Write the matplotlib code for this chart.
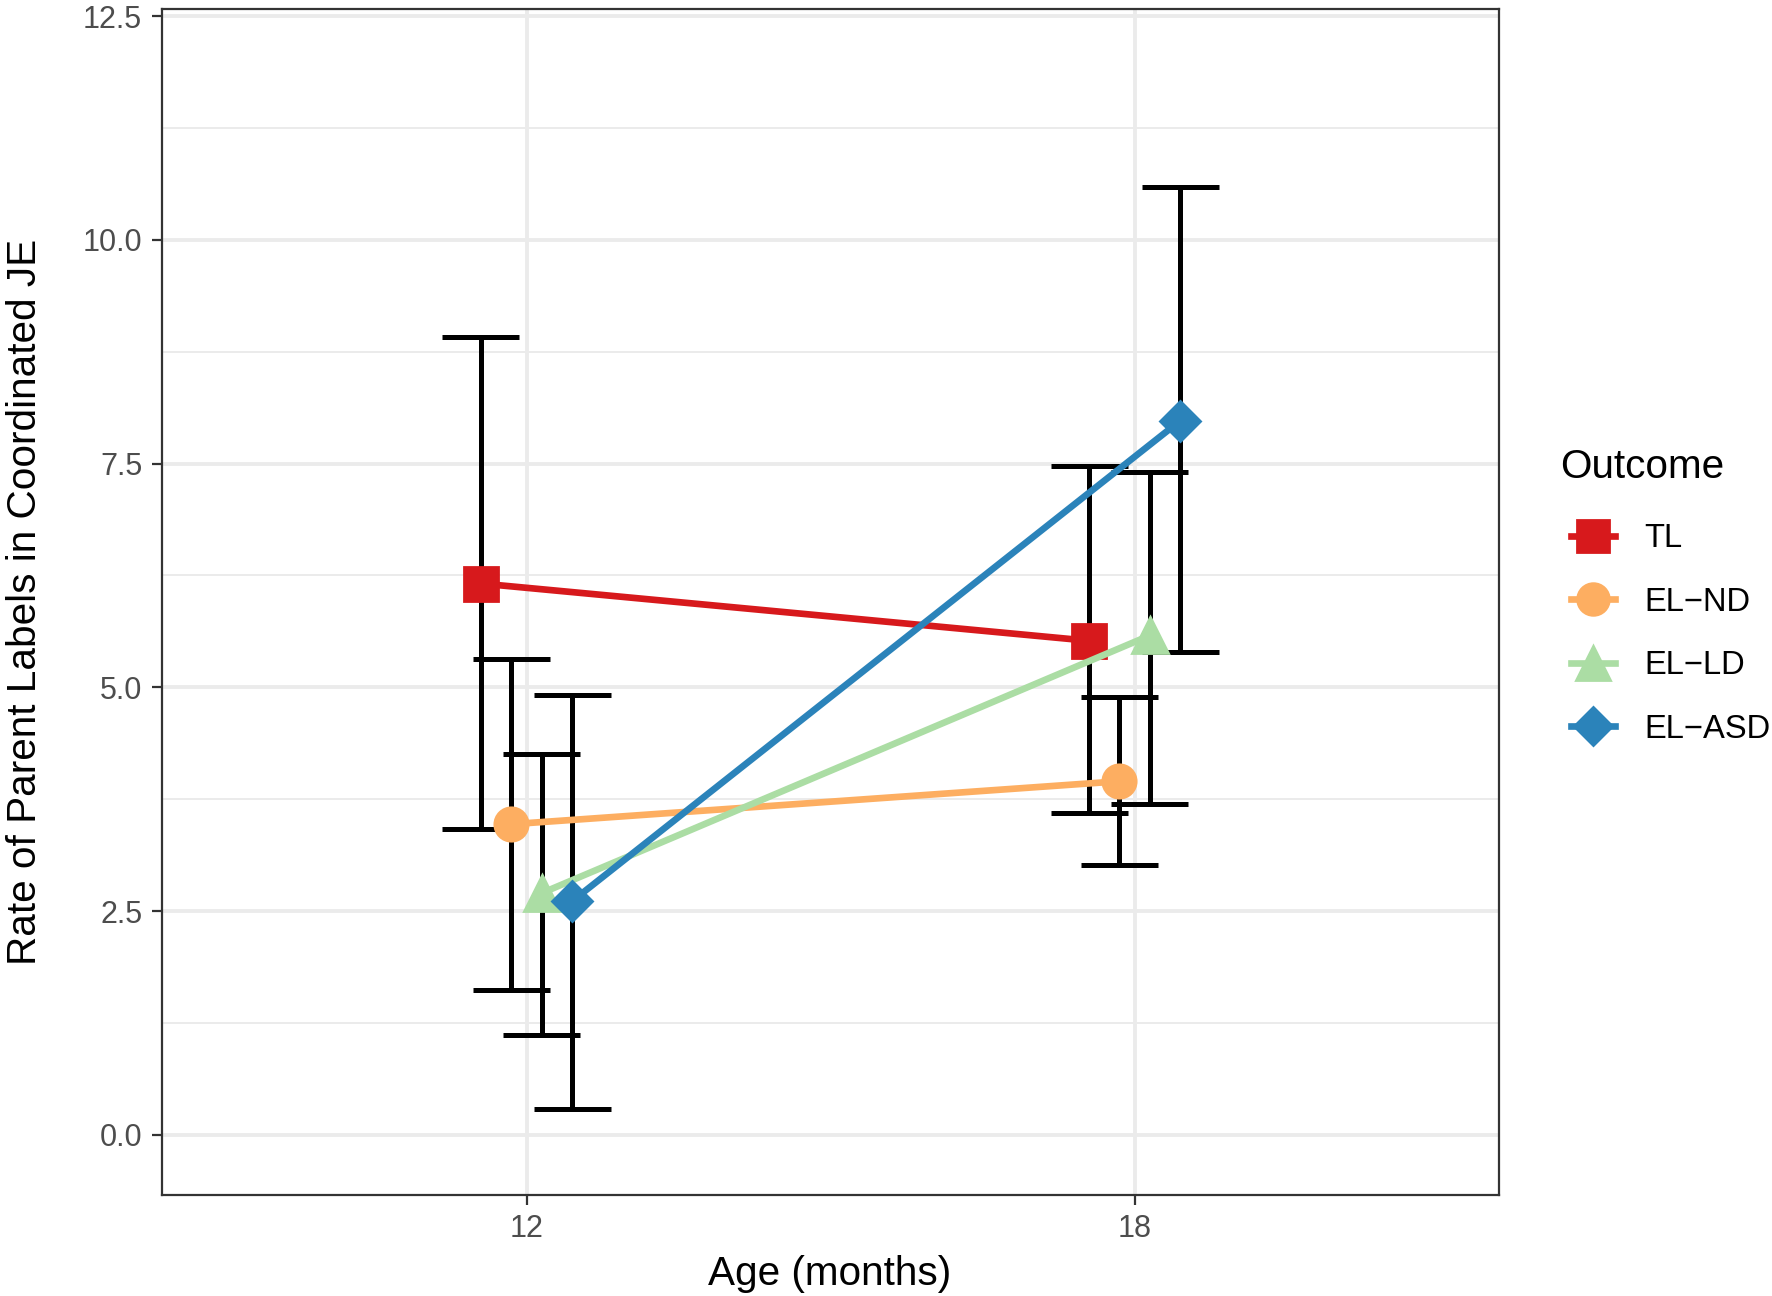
import numpy as np
import matplotlib
matplotlib.use("Agg")
import matplotlib.pyplot as plt
from matplotlib.ticker import FixedLocator, FormatStrFormatter

plt.rcParams['font.family'] = ['Liberation Sans', 'DejaVu Sans']

# data
ages = [12, 18]
outcomes = ["TL", "EL\u2212ND", "EL\u2212LD", "EL\u2212ASD"]

tl_mean = [6.16, 5.52]
tl_lo = [3.42, 3.59]
tl_hi = [8.91, 7.47]

nd_mean = [3.47, 3.95]
nd_lo = [1.62, 3.01]
nd_hi = [5.32, 4.89]

ld_mean = [2.70, 5.58]
ld_lo = [1.11, 3.70]
ld_hi = [4.25, 7.41]

asd_mean = [2.61, 7.98]
asd_lo = [0.29, 5.40]
asd_hi = [4.91, 10.59]

colors = ["#D7191C", "#FDAE61", "#ABDDA4", "#2B83BA"]
markers = ["s", "o", "^", "D"]
msizes = [12, 12, 13, 10]

means = [tl_mean, nd_mean, ld_mean, asd_mean]
los = [tl_lo, nd_lo, ld_lo, asd_lo]
his = [tl_hi, nd_hi, ld_hi, asd_hi]

dodge = 0.3
cap = 0.38

fig = plt.figure(figsize=(8.86, 6.48), dpi=200)
ax = fig.add_axes([0.0912, 0.0782, 0.7545, 0.9148])

# grid
for y in [1.25, 3.75, 6.25, 8.75, 11.25]:
    ax.axhline(y, color="#EBEBEB", lw=0.7, zorder=0)
for y in [0, 2.5, 5, 7.5, 10, 12.5]:
    ax.axhline(y, color="#EBEBEB", lw=1.4, zorder=0)
for x in ages:
    ax.axvline(x, color="#EBEBEB", lw=1.4, zorder=0)

handles = []
for i, name in enumerate(outcomes):
    xs = np.array(ages) + (i - 1.5) * dodge
    m = np.array(means[i])
    lo = np.array(los[i])
    hi = np.array(his[i])
    ax.vlines(xs, lo, hi, color="black", lw=1.8, zorder=2)
    ax.hlines(lo, xs - cap, xs + cap, color="black", lw=1.8, zorder=2)
    ax.hlines(hi, xs - cap, xs + cap, color="black", lw=1.8, zorder=2)
    h, = ax.plot(xs, m, color=colors[i], lw=2.4, marker=markers[i],
                 ms=msizes[i], mec=colors[i], mfc=colors[i], zorder=3 + i,
                 label=name)
    handles.append(h)

ax.set_xlim(8.4, 21.59)
ax.set_ylim(-0.67, 12.58)
ax.xaxis.set_major_locator(FixedLocator(ages))
ax.yaxis.set_major_locator(FixedLocator([0, 2.5, 5, 7.5, 10, 12.5]))
ax.yaxis.set_major_formatter(FormatStrFormatter("%.1f"))
ax.tick_params(colors="#333333", labelcolor="#4D4D4D", labelsize=11,
               length=3.5, width=0.8)
for s in ax.spines.values():
    s.set_color("#333333")
    s.set_linewidth(0.8)

ax.set_xlabel("Age (months)", fontsize=14.6, labelpad=4)
ax.set_ylabel("Rate of Parent Labels in Coordinated JE", fontsize=14.6, labelpad=14)

# legend: title drawn separately so the keys can sit indented under it
fig.text(0.8807, 0.640, "Outcome", fontsize=14.6, ha="left", va="center")
leg = fig.legend(handles=handles, loc="center left",
                 bbox_to_anchor=(0.8775, 0.5109), frameon=False, fontsize=11.8,
                 handlelength=1.32, handletextpad=0.9, borderpad=0,
                 labelspacing=0.99, markerscale=0.95)

fig.savefig("out.png", dpi=200)
